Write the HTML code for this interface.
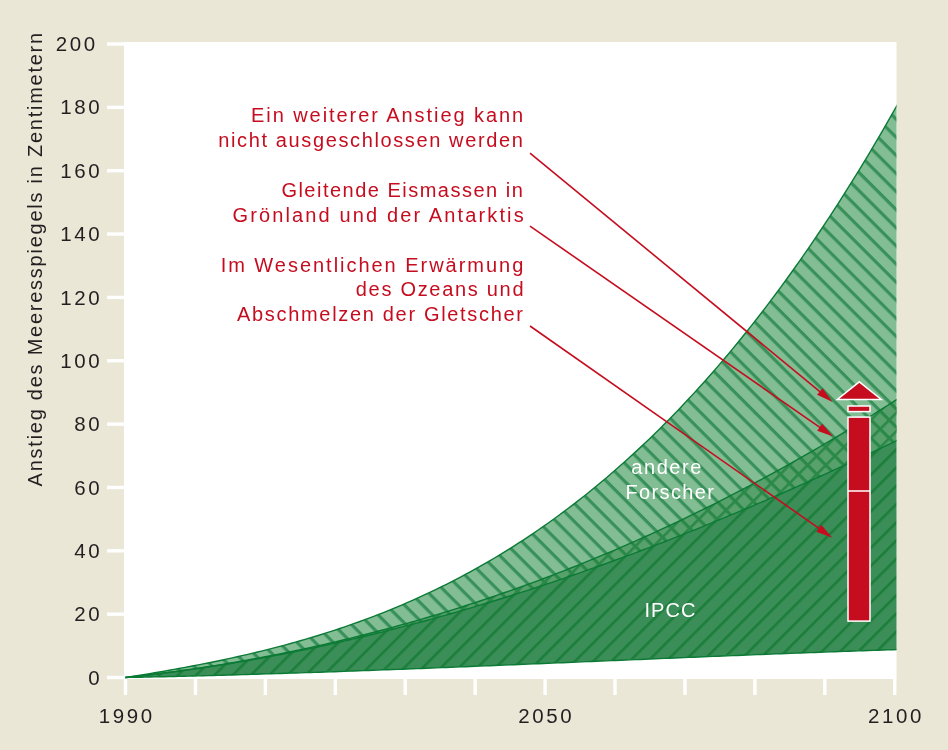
<!DOCTYPE html>
<html><head><meta charset="utf-8"><style>
html,body{margin:0;padding:0;width:948px;height:750px;overflow:hidden;background:#EAE7D7;}
text{font-family:"Liberation Sans", sans-serif;}
</style></head><body>
<svg width="948" height="750" viewBox="0 0 948 750" style="position:absolute;left:0;top:0;will-change:transform">
<defs>
<clipPath id="plot"><rect x="124" y="42" width="772.5" height="637"/></clipPath>
<pattern id="pA" patternUnits="userSpaceOnUse" width="12.8" height="12.8" patternTransform="translate(0.8,0) rotate(45)"><rect width="12.8" height="12.8" fill="#83BD94"/><rect y="0" width="12.8" height="3.2" fill="#38905A"/></pattern>
<pattern id="pI" patternUnits="userSpaceOnUse" width="12.9" height="12.9" patternTransform="translate(-6.11,0) rotate(-45)"><rect width="12.9" height="12.9" fill="#3B8E58"/><rect y="0" width="12.9" height="2.6" fill="#1C7E3B"/></pattern>
<pattern id="pOA" patternUnits="userSpaceOnUse" width="12.8" height="12.8" patternTransform="translate(0.8,0) rotate(45)"><rect y="0" width="12.8" height="3.2" fill="#2A8848"/></pattern>
<pattern id="pOI" patternUnits="userSpaceOnUse" width="12.9" height="12.9" patternTransform="translate(-6.11,0) rotate(-45)"><rect y="0" width="12.9" height="2.6" fill="#2A8848"/></pattern>
</defs>
<rect x="124" y="42" width="772.5" height="637" fill="#ffffff"/>
<rect x="107" y="675.80" width="18" height="3.4" fill="#ffffff"/>
<rect x="107" y="612.45" width="18" height="3.4" fill="#ffffff"/>
<rect x="107" y="549.10" width="18" height="3.4" fill="#ffffff"/>
<rect x="107" y="485.75" width="18" height="3.4" fill="#ffffff"/>
<rect x="107" y="422.40" width="18" height="3.4" fill="#ffffff"/>
<rect x="107" y="359.05" width="18" height="3.4" fill="#ffffff"/>
<rect x="107" y="295.70" width="18" height="3.4" fill="#ffffff"/>
<rect x="107" y="232.35" width="18" height="3.4" fill="#ffffff"/>
<rect x="107" y="169.00" width="18" height="3.4" fill="#ffffff"/>
<rect x="107" y="105.65" width="18" height="3.4" fill="#ffffff"/>
<rect x="107" y="42.30" width="18" height="3.4" fill="#ffffff"/>
<rect x="123.80" y="677" width="3.4" height="18" fill="#ffffff"/>
<rect x="193.73" y="677" width="3.4" height="18" fill="#ffffff"/>
<rect x="263.66" y="677" width="3.4" height="18" fill="#ffffff"/>
<rect x="333.59" y="677" width="3.4" height="18" fill="#ffffff"/>
<rect x="403.52" y="677" width="3.4" height="18" fill="#ffffff"/>
<rect x="473.45" y="677" width="3.4" height="18" fill="#ffffff"/>
<rect x="543.38" y="677" width="3.4" height="18" fill="#ffffff"/>
<rect x="613.31" y="677" width="3.4" height="18" fill="#ffffff"/>
<rect x="683.24" y="677" width="3.4" height="18" fill="#ffffff"/>
<rect x="753.17" y="677" width="3.4" height="18" fill="#ffffff"/>
<rect x="823.10" y="677" width="3.4" height="18" fill="#ffffff"/>
<rect x="893.03" y="677" width="3.4" height="18" fill="#ffffff"/>
<g clip-path="url(#plot)">
<path d="M125.50,677.50 L130.36,676.73 L135.21,675.96 L140.07,675.18 L144.92,674.39 L149.78,673.58 L154.63,672.77 L159.49,671.94 L164.34,671.11 L169.20,670.26 L174.05,669.40 L178.91,668.52 L183.76,667.63 L188.62,666.73 L193.47,665.81 L198.33,664.87 L203.19,663.92 L208.04,662.96 L212.90,661.97 L217.75,660.97 L222.61,659.95 L227.46,658.91 L232.32,657.86 L237.17,656.78 L242.03,655.68 L246.88,654.57 L251.74,653.43 L256.59,652.27 L261.45,651.09 L266.31,649.88 L271.16,648.65 L276.02,647.40 L280.87,646.12 L285.73,644.82 L290.58,643.49 L295.44,642.14 L300.29,640.76 L305.15,639.36 L310.00,637.92 L314.86,636.46 L319.71,634.97 L324.57,633.45 L329.42,631.90 L334.28,630.33 L339.14,628.72 L343.99,627.08 L348.85,625.41 L353.70,623.70 L358.56,621.97 L363.41,620.20 L368.27,618.39 L373.12,616.56 L377.98,614.68 L382.83,612.78 L387.69,610.83 L392.54,608.85 L397.40,606.84 L402.25,604.78 L407.11,602.69 L411.97,600.56 L416.82,598.39 L421.68,596.19 L426.53,593.94 L431.39,591.65 L436.24,589.32 L441.10,586.95 L445.95,584.54 L450.81,582.08 L455.66,579.58 L460.52,577.04 L465.37,574.46 L470.23,571.83 L475.08,569.15 L479.94,566.43 L484.80,563.66 L489.65,560.85 L494.51,557.99 L499.36,555.08 L504.22,552.12 L509.07,549.11 L513.93,546.06 L518.78,542.95 L523.64,539.80 L528.49,536.59 L533.35,533.33 L538.20,530.02 L543.06,526.66 L547.92,523.25 L552.77,519.78 L557.63,516.26 L562.48,512.68 L567.34,509.05 L572.19,505.36 L577.05,501.62 L581.90,497.82 L586.76,493.96 L591.61,490.05 L596.47,486.07 L601.32,482.04 L606.18,477.95 L611.03,473.80 L615.89,469.59 L620.75,465.32 L625.60,460.99 L630.46,456.59 L635.31,452.14 L640.17,447.62 L645.02,443.03 L649.88,438.39 L654.73,433.68 L659.59,428.90 L664.44,424.06 L669.30,419.15 L674.15,414.18 L679.01,409.14 L683.86,404.03 L688.72,398.85 L693.58,393.61 L698.43,388.30 L703.29,382.91 L708.14,377.46 L713.00,371.93 L717.85,366.34 L722.71,360.67 L727.56,354.93 L732.42,349.12 L737.27,343.24 L742.13,337.28 L746.98,331.25 L751.84,325.14 L756.69,318.96 L761.55,312.70 L766.41,306.36 L771.26,299.95 L776.12,293.46 L780.97,286.89 L785.83,280.25 L790.68,273.52 L795.54,266.72 L800.39,259.83 L805.25,252.87 L810.10,245.82 L814.96,238.70 L819.81,231.49 L824.67,224.20 L829.53,216.82 L834.38,209.36 L839.24,201.82 L844.09,194.19 L848.95,186.48 L853.80,178.68 L858.66,170.80 L863.51,162.83 L868.37,154.77 L873.22,146.62 L878.08,138.39 L882.93,130.06 L887.79,121.65 L892.64,113.15 L897.50,104.55 L897.50,399.06 L892.64,402.18 L887.79,405.28 L882.93,408.37 L878.08,411.43 L873.22,414.48 L868.37,417.51 L863.51,420.52 L858.66,423.51 L853.80,426.48 L848.95,429.43 L844.09,432.36 L839.24,435.28 L834.38,438.17 L829.53,441.05 L824.67,443.91 L819.81,446.75 L814.96,449.57 L810.10,452.37 L805.25,455.15 L800.39,457.91 L795.54,460.66 L790.68,463.39 L785.83,466.09 L780.97,468.78 L776.12,471.46 L771.26,474.11 L766.41,476.74 L761.55,479.36 L756.69,481.96 L751.84,484.54 L746.98,487.10 L742.13,489.65 L737.27,492.17 L732.42,494.68 L727.56,497.17 L722.71,499.64 L717.85,502.09 L713.00,504.53 L708.14,506.95 L703.29,509.34 L698.43,511.73 L693.58,514.09 L688.72,516.44 L683.86,518.76 L679.01,521.08 L674.15,523.37 L669.30,525.64 L664.44,527.90 L659.59,530.14 L654.73,532.36 L649.88,534.57 L645.02,536.76 L640.17,538.93 L635.31,541.08 L630.46,543.22 L625.60,545.33 L620.75,547.44 L615.89,549.52 L611.03,551.59 L606.18,553.63 L601.32,555.67 L596.47,557.68 L591.61,559.68 L586.76,561.66 L581.90,563.63 L577.05,565.57 L572.19,567.50 L567.34,569.42 L562.48,571.31 L557.63,573.19 L552.77,575.05 L547.92,576.90 L543.06,578.73 L538.20,580.54 L533.35,582.34 L528.49,584.12 L523.64,585.88 L518.78,587.63 L513.93,589.36 L509.07,591.07 L504.22,592.77 L499.36,594.45 L494.51,596.11 L489.65,597.76 L484.80,599.39 L479.94,601.01 L475.08,602.61 L470.23,604.19 L465.37,605.76 L460.52,607.31 L455.66,608.84 L450.81,610.36 L445.95,611.86 L441.10,613.35 L436.24,614.82 L431.39,616.28 L426.53,617.72 L421.68,619.14 L416.82,620.55 L411.97,621.94 L407.11,623.32 L402.25,624.68 L397.40,626.02 L392.54,627.35 L387.69,628.66 L382.83,629.96 L377.98,631.25 L373.12,632.51 L368.27,633.76 L363.41,635.00 L358.56,636.22 L353.70,637.43 L348.85,638.62 L343.99,639.79 L339.14,640.95 L334.28,642.10 L329.42,643.23 L324.57,644.34 L319.71,645.44 L314.86,646.53 L310.00,647.60 L305.15,648.65 L300.29,649.69 L295.44,650.72 L290.58,651.73 L285.73,652.72 L280.87,653.70 L276.02,654.67 L271.16,655.62 L266.31,656.56 L261.45,657.48 L256.59,658.39 L251.74,659.28 L246.88,660.16 L242.03,661.02 L237.17,661.87 L232.32,662.71 L227.46,663.53 L222.61,664.33 L217.75,665.12 L212.90,665.90 L208.04,666.67 L203.19,667.41 L198.33,668.15 L193.47,668.87 L188.62,669.58 L183.76,670.27 L178.91,670.95 L174.05,671.61 L169.20,672.26 L164.34,672.90 L159.49,673.52 L154.63,674.13 L149.78,674.73 L144.92,675.31 L140.07,675.88 L135.21,676.43 L130.36,676.97 L125.50,677.50 Z" fill="url(#pA)"/>
<path d="M125.50,677.50 L130.36,677.00 L135.21,676.48 L140.07,675.95 L144.92,675.41 L149.78,674.85 L154.63,674.28 L159.49,673.69 L164.34,673.09 L169.20,672.47 L174.05,671.84 L178.91,671.20 L183.76,670.54 L188.62,669.86 L193.47,669.18 L198.33,668.48 L203.19,667.76 L208.04,667.04 L212.90,666.29 L217.75,665.54 L222.61,664.77 L227.46,663.98 L232.32,663.19 L237.17,662.38 L242.03,661.55 L246.88,660.71 L251.74,659.86 L256.59,659.00 L261.45,658.12 L266.31,657.23 L271.16,656.32 L276.02,655.40 L280.87,654.47 L285.73,653.52 L290.58,652.57 L295.44,651.59 L300.29,650.61 L305.15,649.61 L310.00,648.60 L314.86,647.57 L319.71,646.54 L324.57,645.49 L329.42,644.42 L334.28,643.34 L339.14,642.25 L343.99,641.15 L348.85,640.04 L353.70,638.91 L358.56,637.77 L363.41,636.61 L368.27,635.45 L373.12,634.27 L377.98,633.08 L382.83,631.87 L387.69,630.66 L392.54,629.43 L397.40,628.18 L402.25,626.93 L407.11,625.66 L411.97,624.38 L416.82,623.09 L421.68,621.79 L426.53,620.47 L431.39,619.15 L436.24,617.81 L441.10,616.45 L445.95,615.09 L450.81,613.71 L455.66,612.32 L460.52,610.92 L465.37,609.51 L470.23,608.08 L475.08,606.65 L479.94,605.20 L484.80,603.74 L489.65,602.27 L494.51,600.78 L499.36,599.29 L504.22,597.78 L509.07,596.26 L513.93,594.73 L518.78,593.19 L523.64,591.64 L528.49,590.07 L533.35,588.49 L538.20,586.91 L543.06,585.31 L547.92,583.70 L552.77,582.07 L557.63,580.44 L562.48,578.80 L567.34,577.14 L572.19,575.47 L577.05,573.80 L581.90,572.11 L586.76,570.41 L591.61,568.70 L596.47,566.97 L601.32,565.24 L606.18,563.50 L611.03,561.74 L615.89,559.98 L620.75,558.20 L625.60,556.41 L630.46,554.61 L635.31,552.80 L640.17,550.98 L645.02,549.15 L649.88,547.31 L654.73,545.46 L659.59,543.60 L664.44,541.73 L669.30,539.85 L674.15,537.95 L679.01,536.05 L683.86,534.14 L688.72,532.21 L693.58,530.28 L698.43,528.33 L703.29,526.38 L708.14,524.41 L713.00,522.44 L717.85,520.45 L722.71,518.46 L727.56,516.45 L732.42,514.44 L737.27,512.41 L742.13,510.38 L746.98,508.33 L751.84,506.28 L756.69,504.21 L761.55,502.14 L766.41,500.05 L771.26,497.96 L776.12,495.86 L780.97,493.74 L785.83,491.62 L790.68,489.49 L795.54,487.35 L800.39,485.20 L805.25,483.04 L810.10,480.87 L814.96,478.69 L819.81,476.50 L824.67,474.30 L829.53,472.09 L834.38,469.88 L839.24,467.65 L844.09,465.42 L848.95,463.17 L853.80,460.92 L858.66,458.66 L863.51,456.39 L868.37,454.11 L873.22,451.82 L878.08,449.52 L882.93,447.22 L887.79,444.90 L892.64,442.58 L897.50,440.24 L897.50,649.56 L892.64,649.72 L887.79,649.88 L882.93,650.04 L878.08,650.20 L873.22,650.37 L868.37,650.54 L863.51,650.70 L858.66,650.87 L853.80,651.04 L848.95,651.21 L844.09,651.38 L839.24,651.56 L834.38,651.73 L829.53,651.91 L824.67,652.09 L819.81,652.26 L814.96,652.44 L810.10,652.62 L805.25,652.80 L800.39,652.99 L795.54,653.17 L790.68,653.35 L785.83,653.54 L780.97,653.73 L776.12,653.91 L771.26,654.10 L766.41,654.29 L761.55,654.48 L756.69,654.67 L751.84,654.86 L746.98,655.05 L742.13,655.25 L737.27,655.44 L732.42,655.64 L727.56,655.83 L722.71,656.03 L717.85,656.22 L713.00,656.42 L708.14,656.62 L703.29,656.81 L698.43,657.01 L693.58,657.21 L688.72,657.41 L683.86,657.61 L679.01,657.81 L674.15,658.01 L669.30,658.21 L664.44,658.42 L659.59,658.62 L654.73,658.82 L649.88,659.02 L645.02,659.22 L640.17,659.43 L635.31,659.63 L630.46,659.83 L625.60,660.04 L620.75,660.24 L615.89,660.45 L611.03,660.65 L606.18,660.85 L601.32,661.06 L596.47,661.26 L591.61,661.47 L586.76,661.67 L581.90,661.87 L577.05,662.08 L572.19,662.28 L567.34,662.49 L562.48,662.69 L557.63,662.89 L552.77,663.10 L547.92,663.30 L543.06,663.50 L538.20,663.71 L533.35,663.91 L528.49,664.11 L523.64,664.31 L518.78,664.51 L513.93,664.71 L509.07,664.91 L504.22,665.11 L499.36,665.31 L494.51,665.51 L489.65,665.71 L484.80,665.91 L479.94,666.11 L475.08,666.31 L470.23,666.50 L465.37,666.70 L460.52,666.89 L455.66,667.09 L450.81,667.28 L445.95,667.48 L441.10,667.67 L436.24,667.86 L431.39,668.05 L426.53,668.24 L421.68,668.43 L416.82,668.62 L411.97,668.81 L407.11,669.00 L402.25,669.18 L397.40,669.37 L392.54,669.55 L387.69,669.73 L382.83,669.92 L377.98,670.10 L373.12,670.28 L368.27,670.46 L363.41,670.63 L358.56,670.81 L353.70,670.99 L348.85,671.16 L343.99,671.33 L339.14,671.51 L334.28,671.68 L329.42,671.85 L324.57,672.01 L319.71,672.18 L314.86,672.35 L310.00,672.51 L305.15,672.67 L300.29,672.83 L295.44,672.99 L290.58,673.15 L285.73,673.31 L280.87,673.46 L276.02,673.62 L271.16,673.77 L266.31,673.92 L261.45,674.07 L256.59,674.22 L251.74,674.36 L246.88,674.51 L242.03,674.65 L237.17,674.79 L232.32,674.93 L227.46,675.07 L222.61,675.20 L217.75,675.34 L212.90,675.47 L208.04,675.60 L203.19,675.73 L198.33,675.85 L193.47,675.98 L188.62,676.10 L183.76,676.22 L178.91,676.34 L174.05,676.45 L169.20,676.57 L164.34,676.68 L159.49,676.79 L154.63,676.90 L149.78,677.00 L144.92,677.11 L140.07,677.21 L135.21,677.31 L130.36,677.41 L125.50,677.50 Z" fill="url(#pI)"/>
<path d="M125.50,677.50 L130.36,676.97 L135.21,676.43 L140.07,675.88 L144.92,675.31 L149.78,674.73 L154.63,674.13 L159.49,673.52 L164.34,672.90 L169.20,672.26 L174.05,671.61 L178.91,670.95 L183.76,670.27 L188.62,669.58 L193.47,668.87 L198.33,668.15 L203.19,667.41 L208.04,666.67 L212.90,665.90 L217.75,665.12 L222.61,664.33 L227.46,663.53 L232.32,662.71 L237.17,661.87 L242.03,661.02 L246.88,660.16 L251.74,659.28 L256.59,658.39 L261.45,657.48 L266.31,656.56 L271.16,655.62 L276.02,654.67 L280.87,653.70 L285.73,652.72 L290.58,651.73 L295.44,650.72 L300.29,649.69 L305.15,648.65 L310.00,647.60 L314.86,646.53 L319.71,645.44 L324.57,644.34 L329.42,643.23 L334.28,642.10 L339.14,640.95 L343.99,639.79 L348.85,638.62 L353.70,637.43 L358.56,636.22 L363.41,635.00 L368.27,633.76 L373.12,632.51 L377.98,631.25 L382.83,629.96 L387.69,628.66 L392.54,627.35 L397.40,626.02 L402.25,624.68 L407.11,623.32 L411.97,621.94 L416.82,620.55 L421.68,619.14 L426.53,617.72 L431.39,616.28 L436.24,614.82 L441.10,613.35 L445.95,611.86 L450.81,610.36 L455.66,608.84 L460.52,607.31 L465.37,605.76 L470.23,604.19 L475.08,602.61 L479.94,601.01 L484.80,599.39 L489.65,597.76 L494.51,596.11 L499.36,594.45 L504.22,592.77 L509.07,591.07 L513.93,589.36 L518.78,587.63 L523.64,585.88 L528.49,584.12 L533.35,582.34 L538.20,580.54 L543.06,578.73 L547.92,576.90 L552.77,575.05 L557.63,573.19 L562.48,571.31 L567.34,569.42 L572.19,567.50 L577.05,565.57 L581.90,563.63 L586.76,561.66 L591.61,559.68 L596.47,557.68 L601.32,555.67 L606.18,553.63 L611.03,551.59 L615.89,549.52 L620.75,547.44 L625.60,545.33 L630.46,543.22 L635.31,541.08 L640.17,538.93 L645.02,536.76 L649.88,534.57 L654.73,532.36 L659.59,530.14 L664.44,527.90 L669.30,525.64 L674.15,523.37 L679.01,521.08 L683.86,518.76 L688.72,516.44 L693.58,514.09 L698.43,511.73 L703.29,509.34 L708.14,506.95 L713.00,504.53 L717.85,502.09 L722.71,499.64 L727.56,497.17 L732.42,494.68 L737.27,492.17 L742.13,489.65 L746.98,487.10 L751.84,484.54 L756.69,481.96 L761.55,479.36 L766.41,476.74 L771.26,474.11 L776.12,471.46 L780.97,468.78 L785.83,466.09 L790.68,463.39 L795.54,460.66 L800.39,457.91 L805.25,455.15 L810.10,452.37 L814.96,449.57 L819.81,446.75 L824.67,443.91 L829.53,441.05 L834.38,438.17 L839.24,435.28 L844.09,432.36 L848.95,429.43 L853.80,426.48 L858.66,423.51 L863.51,420.52 L868.37,417.51 L873.22,414.48 L878.08,411.43 L882.93,408.37 L887.79,405.28 L892.64,402.18 L897.50,399.06 L897.50,440.24 L892.64,442.58 L887.79,444.90 L882.93,447.22 L878.08,449.52 L873.22,451.82 L868.37,454.11 L863.51,456.39 L858.66,458.66 L853.80,460.92 L848.95,463.17 L844.09,465.42 L839.24,467.65 L834.38,469.88 L829.53,472.09 L824.67,474.30 L819.81,476.50 L814.96,478.69 L810.10,480.87 L805.25,483.04 L800.39,485.20 L795.54,487.35 L790.68,489.49 L785.83,491.62 L780.97,493.74 L776.12,495.86 L771.26,497.96 L766.41,500.05 L761.55,502.14 L756.69,504.21 L751.84,506.28 L746.98,508.33 L742.13,510.38 L737.27,512.41 L732.42,514.44 L727.56,516.45 L722.71,518.46 L717.85,520.45 L713.00,522.44 L708.14,524.41 L703.29,526.38 L698.43,528.33 L693.58,530.28 L688.72,532.21 L683.86,534.14 L679.01,536.05 L674.15,537.95 L669.30,539.85 L664.44,541.73 L659.59,543.60 L654.73,545.46 L649.88,547.31 L645.02,549.15 L640.17,550.98 L635.31,552.80 L630.46,554.61 L625.60,556.41 L620.75,558.20 L615.89,559.98 L611.03,561.74 L606.18,563.50 L601.32,565.24 L596.47,566.97 L591.61,568.70 L586.76,570.41 L581.90,572.11 L577.05,573.80 L572.19,575.47 L567.34,577.14 L562.48,578.80 L557.63,580.44 L552.77,582.07 L547.92,583.70 L543.06,585.31 L538.20,586.91 L533.35,588.49 L528.49,590.07 L523.64,591.64 L518.78,593.19 L513.93,594.73 L509.07,596.26 L504.22,597.78 L499.36,599.29 L494.51,600.78 L489.65,602.27 L484.80,603.74 L479.94,605.20 L475.08,606.65 L470.23,608.08 L465.37,609.51 L460.52,610.92 L455.66,612.32 L450.81,613.71 L445.95,615.09 L441.10,616.45 L436.24,617.81 L431.39,619.15 L426.53,620.47 L421.68,621.79 L416.82,623.09 L411.97,624.38 L407.11,625.66 L402.25,626.93 L397.40,628.18 L392.54,629.43 L387.69,630.66 L382.83,631.87 L377.98,633.08 L373.12,634.27 L368.27,635.45 L363.41,636.61 L358.56,637.77 L353.70,638.91 L348.85,640.04 L343.99,641.15 L339.14,642.25 L334.28,643.34 L329.42,644.42 L324.57,645.49 L319.71,646.54 L314.86,647.57 L310.00,648.60 L305.15,649.61 L300.29,650.61 L295.44,651.59 L290.58,652.57 L285.73,653.52 L280.87,654.47 L276.02,655.40 L271.16,656.32 L266.31,657.23 L261.45,658.12 L256.59,659.00 L251.74,659.86 L246.88,660.71 L242.03,661.55 L237.17,662.38 L232.32,663.19 L227.46,663.98 L222.61,664.77 L217.75,665.54 L212.90,666.29 L208.04,667.04 L203.19,667.76 L198.33,668.48 L193.47,669.18 L188.62,669.86 L183.76,670.54 L178.91,671.20 L174.05,671.84 L169.20,672.47 L164.34,673.09 L159.49,673.69 L154.63,674.28 L149.78,674.85 L144.92,675.41 L140.07,675.95 L135.21,676.48 L130.36,677.00 L125.50,677.50 Z" fill="#58A16D"/>
<path d="M125.50,677.50 L130.36,676.97 L135.21,676.43 L140.07,675.88 L144.92,675.31 L149.78,674.73 L154.63,674.13 L159.49,673.52 L164.34,672.90 L169.20,672.26 L174.05,671.61 L178.91,670.95 L183.76,670.27 L188.62,669.58 L193.47,668.87 L198.33,668.15 L203.19,667.41 L208.04,666.67 L212.90,665.90 L217.75,665.12 L222.61,664.33 L227.46,663.53 L232.32,662.71 L237.17,661.87 L242.03,661.02 L246.88,660.16 L251.74,659.28 L256.59,658.39 L261.45,657.48 L266.31,656.56 L271.16,655.62 L276.02,654.67 L280.87,653.70 L285.73,652.72 L290.58,651.73 L295.44,650.72 L300.29,649.69 L305.15,648.65 L310.00,647.60 L314.86,646.53 L319.71,645.44 L324.57,644.34 L329.42,643.23 L334.28,642.10 L339.14,640.95 L343.99,639.79 L348.85,638.62 L353.70,637.43 L358.56,636.22 L363.41,635.00 L368.27,633.76 L373.12,632.51 L377.98,631.25 L382.83,629.96 L387.69,628.66 L392.54,627.35 L397.40,626.02 L402.25,624.68 L407.11,623.32 L411.97,621.94 L416.82,620.55 L421.68,619.14 L426.53,617.72 L431.39,616.28 L436.24,614.82 L441.10,613.35 L445.95,611.86 L450.81,610.36 L455.66,608.84 L460.52,607.31 L465.37,605.76 L470.23,604.19 L475.08,602.61 L479.94,601.01 L484.80,599.39 L489.65,597.76 L494.51,596.11 L499.36,594.45 L504.22,592.77 L509.07,591.07 L513.93,589.36 L518.78,587.63 L523.64,585.88 L528.49,584.12 L533.35,582.34 L538.20,580.54 L543.06,578.73 L547.92,576.90 L552.77,575.05 L557.63,573.19 L562.48,571.31 L567.34,569.42 L572.19,567.50 L577.05,565.57 L581.90,563.63 L586.76,561.66 L591.61,559.68 L596.47,557.68 L601.32,555.67 L606.18,553.63 L611.03,551.59 L615.89,549.52 L620.75,547.44 L625.60,545.33 L630.46,543.22 L635.31,541.08 L640.17,538.93 L645.02,536.76 L649.88,534.57 L654.73,532.36 L659.59,530.14 L664.44,527.90 L669.30,525.64 L674.15,523.37 L679.01,521.08 L683.86,518.76 L688.72,516.44 L693.58,514.09 L698.43,511.73 L703.29,509.34 L708.14,506.95 L713.00,504.53 L717.85,502.09 L722.71,499.64 L727.56,497.17 L732.42,494.68 L737.27,492.17 L742.13,489.65 L746.98,487.10 L751.84,484.54 L756.69,481.96 L761.55,479.36 L766.41,476.74 L771.26,474.11 L776.12,471.46 L780.97,468.78 L785.83,466.09 L790.68,463.39 L795.54,460.66 L800.39,457.91 L805.25,455.15 L810.10,452.37 L814.96,449.57 L819.81,446.75 L824.67,443.91 L829.53,441.05 L834.38,438.17 L839.24,435.28 L844.09,432.36 L848.95,429.43 L853.80,426.48 L858.66,423.51 L863.51,420.52 L868.37,417.51 L873.22,414.48 L878.08,411.43 L882.93,408.37 L887.79,405.28 L892.64,402.18 L897.50,399.06 L897.50,440.24 L892.64,442.58 L887.79,444.90 L882.93,447.22 L878.08,449.52 L873.22,451.82 L868.37,454.11 L863.51,456.39 L858.66,458.66 L853.80,460.92 L848.95,463.17 L844.09,465.42 L839.24,467.65 L834.38,469.88 L829.53,472.09 L824.67,474.30 L819.81,476.50 L814.96,478.69 L810.10,480.87 L805.25,483.04 L800.39,485.20 L795.54,487.35 L790.68,489.49 L785.83,491.62 L780.97,493.74 L776.12,495.86 L771.26,497.96 L766.41,500.05 L761.55,502.14 L756.69,504.21 L751.84,506.28 L746.98,508.33 L742.13,510.38 L737.27,512.41 L732.42,514.44 L727.56,516.45 L722.71,518.46 L717.85,520.45 L713.00,522.44 L708.14,524.41 L703.29,526.38 L698.43,528.33 L693.58,530.28 L688.72,532.21 L683.86,534.14 L679.01,536.05 L674.15,537.95 L669.30,539.85 L664.44,541.73 L659.59,543.60 L654.73,545.46 L649.88,547.31 L645.02,549.15 L640.17,550.98 L635.31,552.80 L630.46,554.61 L625.60,556.41 L620.75,558.20 L615.89,559.98 L611.03,561.74 L606.18,563.50 L601.32,565.24 L596.47,566.97 L591.61,568.70 L586.76,570.41 L581.90,572.11 L577.05,573.80 L572.19,575.47 L567.34,577.14 L562.48,578.80 L557.63,580.44 L552.77,582.07 L547.92,583.70 L543.06,585.31 L538.20,586.91 L533.35,588.49 L528.49,590.07 L523.64,591.64 L518.78,593.19 L513.93,594.73 L509.07,596.26 L504.22,597.78 L499.36,599.29 L494.51,600.78 L489.65,602.27 L484.80,603.74 L479.94,605.20 L475.08,606.65 L470.23,608.08 L465.37,609.51 L460.52,610.92 L455.66,612.32 L450.81,613.71 L445.95,615.09 L441.10,616.45 L436.24,617.81 L431.39,619.15 L426.53,620.47 L421.68,621.79 L416.82,623.09 L411.97,624.38 L407.11,625.66 L402.25,626.93 L397.40,628.18 L392.54,629.43 L387.69,630.66 L382.83,631.87 L377.98,633.08 L373.12,634.27 L368.27,635.45 L363.41,636.61 L358.56,637.77 L353.70,638.91 L348.85,640.04 L343.99,641.15 L339.14,642.25 L334.28,643.34 L329.42,644.42 L324.57,645.49 L319.71,646.54 L314.86,647.57 L310.00,648.60 L305.15,649.61 L300.29,650.61 L295.44,651.59 L290.58,652.57 L285.73,653.52 L280.87,654.47 L276.02,655.40 L271.16,656.32 L266.31,657.23 L261.45,658.12 L256.59,659.00 L251.74,659.86 L246.88,660.71 L242.03,661.55 L237.17,662.38 L232.32,663.19 L227.46,663.98 L222.61,664.77 L217.75,665.54 L212.90,666.29 L208.04,667.04 L203.19,667.76 L198.33,668.48 L193.47,669.18 L188.62,669.86 L183.76,670.54 L178.91,671.20 L174.05,671.84 L169.20,672.47 L164.34,673.09 L159.49,673.69 L154.63,674.28 L149.78,674.85 L144.92,675.41 L140.07,675.95 L135.21,676.48 L130.36,677.00 L125.50,677.50 Z" fill="url(#pOA)"/>
<path d="M125.50,677.50 L130.36,676.97 L135.21,676.43 L140.07,675.88 L144.92,675.31 L149.78,674.73 L154.63,674.13 L159.49,673.52 L164.34,672.90 L169.20,672.26 L174.05,671.61 L178.91,670.95 L183.76,670.27 L188.62,669.58 L193.47,668.87 L198.33,668.15 L203.19,667.41 L208.04,666.67 L212.90,665.90 L217.75,665.12 L222.61,664.33 L227.46,663.53 L232.32,662.71 L237.17,661.87 L242.03,661.02 L246.88,660.16 L251.74,659.28 L256.59,658.39 L261.45,657.48 L266.31,656.56 L271.16,655.62 L276.02,654.67 L280.87,653.70 L285.73,652.72 L290.58,651.73 L295.44,650.72 L300.29,649.69 L305.15,648.65 L310.00,647.60 L314.86,646.53 L319.71,645.44 L324.57,644.34 L329.42,643.23 L334.28,642.10 L339.14,640.95 L343.99,639.79 L348.85,638.62 L353.70,637.43 L358.56,636.22 L363.41,635.00 L368.27,633.76 L373.12,632.51 L377.98,631.25 L382.83,629.96 L387.69,628.66 L392.54,627.35 L397.40,626.02 L402.25,624.68 L407.11,623.32 L411.97,621.94 L416.82,620.55 L421.68,619.14 L426.53,617.72 L431.39,616.28 L436.24,614.82 L441.10,613.35 L445.95,611.86 L450.81,610.36 L455.66,608.84 L460.52,607.31 L465.37,605.76 L470.23,604.19 L475.08,602.61 L479.94,601.01 L484.80,599.39 L489.65,597.76 L494.51,596.11 L499.36,594.45 L504.22,592.77 L509.07,591.07 L513.93,589.36 L518.78,587.63 L523.64,585.88 L528.49,584.12 L533.35,582.34 L538.20,580.54 L543.06,578.73 L547.92,576.90 L552.77,575.05 L557.63,573.19 L562.48,571.31 L567.34,569.42 L572.19,567.50 L577.05,565.57 L581.90,563.63 L586.76,561.66 L591.61,559.68 L596.47,557.68 L601.32,555.67 L606.18,553.63 L611.03,551.59 L615.89,549.52 L620.75,547.44 L625.60,545.33 L630.46,543.22 L635.31,541.08 L640.17,538.93 L645.02,536.76 L649.88,534.57 L654.73,532.36 L659.59,530.14 L664.44,527.90 L669.30,525.64 L674.15,523.37 L679.01,521.08 L683.86,518.76 L688.72,516.44 L693.58,514.09 L698.43,511.73 L703.29,509.34 L708.14,506.95 L713.00,504.53 L717.85,502.09 L722.71,499.64 L727.56,497.17 L732.42,494.68 L737.27,492.17 L742.13,489.65 L746.98,487.10 L751.84,484.54 L756.69,481.96 L761.55,479.36 L766.41,476.74 L771.26,474.11 L776.12,471.46 L780.97,468.78 L785.83,466.09 L790.68,463.39 L795.54,460.66 L800.39,457.91 L805.25,455.15 L810.10,452.37 L814.96,449.57 L819.81,446.75 L824.67,443.91 L829.53,441.05 L834.38,438.17 L839.24,435.28 L844.09,432.36 L848.95,429.43 L853.80,426.48 L858.66,423.51 L863.51,420.52 L868.37,417.51 L873.22,414.48 L878.08,411.43 L882.93,408.37 L887.79,405.28 L892.64,402.18 L897.50,399.06 L897.50,440.24 L892.64,442.58 L887.79,444.90 L882.93,447.22 L878.08,449.52 L873.22,451.82 L868.37,454.11 L863.51,456.39 L858.66,458.66 L853.80,460.92 L848.95,463.17 L844.09,465.42 L839.24,467.65 L834.38,469.88 L829.53,472.09 L824.67,474.30 L819.81,476.50 L814.96,478.69 L810.10,480.87 L805.25,483.04 L800.39,485.20 L795.54,487.35 L790.68,489.49 L785.83,491.62 L780.97,493.74 L776.12,495.86 L771.26,497.96 L766.41,500.05 L761.55,502.14 L756.69,504.21 L751.84,506.28 L746.98,508.33 L742.13,510.38 L737.27,512.41 L732.42,514.44 L727.56,516.45 L722.71,518.46 L717.85,520.45 L713.00,522.44 L708.14,524.41 L703.29,526.38 L698.43,528.33 L693.58,530.28 L688.72,532.21 L683.86,534.14 L679.01,536.05 L674.15,537.95 L669.30,539.85 L664.44,541.73 L659.59,543.60 L654.73,545.46 L649.88,547.31 L645.02,549.15 L640.17,550.98 L635.31,552.80 L630.46,554.61 L625.60,556.41 L620.75,558.20 L615.89,559.98 L611.03,561.74 L606.18,563.50 L601.32,565.24 L596.47,566.97 L591.61,568.70 L586.76,570.41 L581.90,572.11 L577.05,573.80 L572.19,575.47 L567.34,577.14 L562.48,578.80 L557.63,580.44 L552.77,582.07 L547.92,583.70 L543.06,585.31 L538.20,586.91 L533.35,588.49 L528.49,590.07 L523.64,591.64 L518.78,593.19 L513.93,594.73 L509.07,596.26 L504.22,597.78 L499.36,599.29 L494.51,600.78 L489.65,602.27 L484.80,603.74 L479.94,605.20 L475.08,606.65 L470.23,608.08 L465.37,609.51 L460.52,610.92 L455.66,612.32 L450.81,613.71 L445.95,615.09 L441.10,616.45 L436.24,617.81 L431.39,619.15 L426.53,620.47 L421.68,621.79 L416.82,623.09 L411.97,624.38 L407.11,625.66 L402.25,626.93 L397.40,628.18 L392.54,629.43 L387.69,630.66 L382.83,631.87 L377.98,633.08 L373.12,634.27 L368.27,635.45 L363.41,636.61 L358.56,637.77 L353.70,638.91 L348.85,640.04 L343.99,641.15 L339.14,642.25 L334.28,643.34 L329.42,644.42 L324.57,645.49 L319.71,646.54 L314.86,647.57 L310.00,648.60 L305.15,649.61 L300.29,650.61 L295.44,651.59 L290.58,652.57 L285.73,653.52 L280.87,654.47 L276.02,655.40 L271.16,656.32 L266.31,657.23 L261.45,658.12 L256.59,659.00 L251.74,659.86 L246.88,660.71 L242.03,661.55 L237.17,662.38 L232.32,663.19 L227.46,663.98 L222.61,664.77 L217.75,665.54 L212.90,666.29 L208.04,667.04 L203.19,667.76 L198.33,668.48 L193.47,669.18 L188.62,669.86 L183.76,670.54 L178.91,671.20 L174.05,671.84 L169.20,672.47 L164.34,673.09 L159.49,673.69 L154.63,674.28 L149.78,674.85 L144.92,675.41 L140.07,675.95 L135.21,676.48 L130.36,677.00 L125.50,677.50 Z" fill="url(#pOI)"/>
<path d="M125.50,677.50 L130.36,676.73 L135.21,675.96 L140.07,675.18 L144.92,674.39 L149.78,673.58 L154.63,672.77 L159.49,671.94 L164.34,671.11 L169.20,670.26 L174.05,669.40 L178.91,668.52 L183.76,667.63 L188.62,666.73 L193.47,665.81 L198.33,664.87 L203.19,663.92 L208.04,662.96 L212.90,661.97 L217.75,660.97 L222.61,659.95 L227.46,658.91 L232.32,657.86 L237.17,656.78 L242.03,655.68 L246.88,654.57 L251.74,653.43 L256.59,652.27 L261.45,651.09 L266.31,649.88 L271.16,648.65 L276.02,647.40 L280.87,646.12 L285.73,644.82 L290.58,643.49 L295.44,642.14 L300.29,640.76 L305.15,639.36 L310.00,637.92 L314.86,636.46 L319.71,634.97 L324.57,633.45 L329.42,631.90 L334.28,630.33 L339.14,628.72 L343.99,627.08 L348.85,625.41 L353.70,623.70 L358.56,621.97 L363.41,620.20 L368.27,618.39 L373.12,616.56 L377.98,614.68 L382.83,612.78 L387.69,610.83 L392.54,608.85 L397.40,606.84 L402.25,604.78 L407.11,602.69 L411.97,600.56 L416.82,598.39 L421.68,596.19 L426.53,593.94 L431.39,591.65 L436.24,589.32 L441.10,586.95 L445.95,584.54 L450.81,582.08 L455.66,579.58 L460.52,577.04 L465.37,574.46 L470.23,571.83 L475.08,569.15 L479.94,566.43 L484.80,563.66 L489.65,560.85 L494.51,557.99 L499.36,555.08 L504.22,552.12 L509.07,549.11 L513.93,546.06 L518.78,542.95 L523.64,539.80 L528.49,536.59 L533.35,533.33 L538.20,530.02 L543.06,526.66 L547.92,523.25 L552.77,519.78 L557.63,516.26 L562.48,512.68 L567.34,509.05 L572.19,505.36 L577.05,501.62 L581.90,497.82 L586.76,493.96 L591.61,490.05 L596.47,486.07 L601.32,482.04 L606.18,477.95 L611.03,473.80 L615.89,469.59 L620.75,465.32 L625.60,460.99 L630.46,456.59 L635.31,452.14 L640.17,447.62 L645.02,443.03 L649.88,438.39 L654.73,433.68 L659.59,428.90 L664.44,424.06 L669.30,419.15 L674.15,414.18 L679.01,409.14 L683.86,404.03 L688.72,398.85 L693.58,393.61 L698.43,388.30 L703.29,382.91 L708.14,377.46 L713.00,371.93 L717.85,366.34 L722.71,360.67 L727.56,354.93 L732.42,349.12 L737.27,343.24 L742.13,337.28 L746.98,331.25 L751.84,325.14 L756.69,318.96 L761.55,312.70 L766.41,306.36 L771.26,299.95 L776.12,293.46 L780.97,286.89 L785.83,280.25 L790.68,273.52 L795.54,266.72 L800.39,259.83 L805.25,252.87 L810.10,245.82 L814.96,238.70 L819.81,231.49 L824.67,224.20 L829.53,216.82 L834.38,209.36 L839.24,201.82 L844.09,194.19 L848.95,186.48 L853.80,178.68 L858.66,170.80 L863.51,162.83 L868.37,154.77 L873.22,146.62 L878.08,138.39 L882.93,130.06 L887.79,121.65 L892.64,113.15 L897.50,104.55" fill="none" stroke="#0A7A35" stroke-width="1.4"/>
<path d="M125.50,677.50 L130.36,676.97 L135.21,676.43 L140.07,675.88 L144.92,675.31 L149.78,674.73 L154.63,674.13 L159.49,673.52 L164.34,672.90 L169.20,672.26 L174.05,671.61 L178.91,670.95 L183.76,670.27 L188.62,669.58 L193.47,668.87 L198.33,668.15 L203.19,667.41 L208.04,666.67 L212.90,665.90 L217.75,665.12 L222.61,664.33 L227.46,663.53 L232.32,662.71 L237.17,661.87 L242.03,661.02 L246.88,660.16 L251.74,659.28 L256.59,658.39 L261.45,657.48 L266.31,656.56 L271.16,655.62 L276.02,654.67 L280.87,653.70 L285.73,652.72 L290.58,651.73 L295.44,650.72 L300.29,649.69 L305.15,648.65 L310.00,647.60 L314.86,646.53 L319.71,645.44 L324.57,644.34 L329.42,643.23 L334.28,642.10 L339.14,640.95 L343.99,639.79 L348.85,638.62 L353.70,637.43 L358.56,636.22 L363.41,635.00 L368.27,633.76 L373.12,632.51 L377.98,631.25 L382.83,629.96 L387.69,628.66 L392.54,627.35 L397.40,626.02 L402.25,624.68 L407.11,623.32 L411.97,621.94 L416.82,620.55 L421.68,619.14 L426.53,617.72 L431.39,616.28 L436.24,614.82 L441.10,613.35 L445.95,611.86 L450.81,610.36 L455.66,608.84 L460.52,607.31 L465.37,605.76 L470.23,604.19 L475.08,602.61 L479.94,601.01 L484.80,599.39 L489.65,597.76 L494.51,596.11 L499.36,594.45 L504.22,592.77 L509.07,591.07 L513.93,589.36 L518.78,587.63 L523.64,585.88 L528.49,584.12 L533.35,582.34 L538.20,580.54 L543.06,578.73 L547.92,576.90 L552.77,575.05 L557.63,573.19 L562.48,571.31 L567.34,569.42 L572.19,567.50 L577.05,565.57 L581.90,563.63 L586.76,561.66 L591.61,559.68 L596.47,557.68 L601.32,555.67 L606.18,553.63 L611.03,551.59 L615.89,549.52 L620.75,547.44 L625.60,545.33 L630.46,543.22 L635.31,541.08 L640.17,538.93 L645.02,536.76 L649.88,534.57 L654.73,532.36 L659.59,530.14 L664.44,527.90 L669.30,525.64 L674.15,523.37 L679.01,521.08 L683.86,518.76 L688.72,516.44 L693.58,514.09 L698.43,511.73 L703.29,509.34 L708.14,506.95 L713.00,504.53 L717.85,502.09 L722.71,499.64 L727.56,497.17 L732.42,494.68 L737.27,492.17 L742.13,489.65 L746.98,487.10 L751.84,484.54 L756.69,481.96 L761.55,479.36 L766.41,476.74 L771.26,474.11 L776.12,471.46 L780.97,468.78 L785.83,466.09 L790.68,463.39 L795.54,460.66 L800.39,457.91 L805.25,455.15 L810.10,452.37 L814.96,449.57 L819.81,446.75 L824.67,443.91 L829.53,441.05 L834.38,438.17 L839.24,435.28 L844.09,432.36 L848.95,429.43 L853.80,426.48 L858.66,423.51 L863.51,420.52 L868.37,417.51 L873.22,414.48 L878.08,411.43 L882.93,408.37 L887.79,405.28 L892.64,402.18 L897.50,399.06" fill="none" stroke="#0A7A35" stroke-width="1.4"/>
<path d="M125.50,677.50 L130.36,677.00 L135.21,676.48 L140.07,675.95 L144.92,675.41 L149.78,674.85 L154.63,674.28 L159.49,673.69 L164.34,673.09 L169.20,672.47 L174.05,671.84 L178.91,671.20 L183.76,670.54 L188.62,669.86 L193.47,669.18 L198.33,668.48 L203.19,667.76 L208.04,667.04 L212.90,666.29 L217.75,665.54 L222.61,664.77 L227.46,663.98 L232.32,663.19 L237.17,662.38 L242.03,661.55 L246.88,660.71 L251.74,659.86 L256.59,659.00 L261.45,658.12 L266.31,657.23 L271.16,656.32 L276.02,655.40 L280.87,654.47 L285.73,653.52 L290.58,652.57 L295.44,651.59 L300.29,650.61 L305.15,649.61 L310.00,648.60 L314.86,647.57 L319.71,646.54 L324.57,645.49 L329.42,644.42 L334.28,643.34 L339.14,642.25 L343.99,641.15 L348.85,640.04 L353.70,638.91 L358.56,637.77 L363.41,636.61 L368.27,635.45 L373.12,634.27 L377.98,633.08 L382.83,631.87 L387.69,630.66 L392.54,629.43 L397.40,628.18 L402.25,626.93 L407.11,625.66 L411.97,624.38 L416.82,623.09 L421.68,621.79 L426.53,620.47 L431.39,619.15 L436.24,617.81 L441.10,616.45 L445.95,615.09 L450.81,613.71 L455.66,612.32 L460.52,610.92 L465.37,609.51 L470.23,608.08 L475.08,606.65 L479.94,605.20 L484.80,603.74 L489.65,602.27 L494.51,600.78 L499.36,599.29 L504.22,597.78 L509.07,596.26 L513.93,594.73 L518.78,593.19 L523.64,591.64 L528.49,590.07 L533.35,588.49 L538.20,586.91 L543.06,585.31 L547.92,583.70 L552.77,582.07 L557.63,580.44 L562.48,578.80 L567.34,577.14 L572.19,575.47 L577.05,573.80 L581.90,572.11 L586.76,570.41 L591.61,568.70 L596.47,566.97 L601.32,565.24 L606.18,563.50 L611.03,561.74 L615.89,559.98 L620.75,558.20 L625.60,556.41 L630.46,554.61 L635.31,552.80 L640.17,550.98 L645.02,549.15 L649.88,547.31 L654.73,545.46 L659.59,543.60 L664.44,541.73 L669.30,539.85 L674.15,537.95 L679.01,536.05 L683.86,534.14 L688.72,532.21 L693.58,530.28 L698.43,528.33 L703.29,526.38 L708.14,524.41 L713.00,522.44 L717.85,520.45 L722.71,518.46 L727.56,516.45 L732.42,514.44 L737.27,512.41 L742.13,510.38 L746.98,508.33 L751.84,506.28 L756.69,504.21 L761.55,502.14 L766.41,500.05 L771.26,497.96 L776.12,495.86 L780.97,493.74 L785.83,491.62 L790.68,489.49 L795.54,487.35 L800.39,485.20 L805.25,483.04 L810.10,480.87 L814.96,478.69 L819.81,476.50 L824.67,474.30 L829.53,472.09 L834.38,469.88 L839.24,467.65 L844.09,465.42 L848.95,463.17 L853.80,460.92 L858.66,458.66 L863.51,456.39 L868.37,454.11 L873.22,451.82 L878.08,449.52 L882.93,447.22 L887.79,444.90 L892.64,442.58 L897.50,440.24" fill="none" stroke="#0A7A35" stroke-width="1.4"/>
<path d="M125.50,677.50 L130.36,677.41 L135.21,677.31 L140.07,677.21 L144.92,677.11 L149.78,677.00 L154.63,676.90 L159.49,676.79 L164.34,676.68 L169.20,676.57 L174.05,676.45 L178.91,676.34 L183.76,676.22 L188.62,676.10 L193.47,675.98 L198.33,675.85 L203.19,675.73 L208.04,675.60 L212.90,675.47 L217.75,675.34 L222.61,675.20 L227.46,675.07 L232.32,674.93 L237.17,674.79 L242.03,674.65 L246.88,674.51 L251.74,674.36 L256.59,674.22 L261.45,674.07 L266.31,673.92 L271.16,673.77 L276.02,673.62 L280.87,673.46 L285.73,673.31 L290.58,673.15 L295.44,672.99 L300.29,672.83 L305.15,672.67 L310.00,672.51 L314.86,672.35 L319.71,672.18 L324.57,672.01 L329.42,671.85 L334.28,671.68 L339.14,671.51 L343.99,671.33 L348.85,671.16 L353.70,670.99 L358.56,670.81 L363.41,670.63 L368.27,670.46 L373.12,670.28 L377.98,670.10 L382.83,669.92 L387.69,669.73 L392.54,669.55 L397.40,669.37 L402.25,669.18 L407.11,669.00 L411.97,668.81 L416.82,668.62 L421.68,668.43 L426.53,668.24 L431.39,668.05 L436.24,667.86 L441.10,667.67 L445.95,667.48 L450.81,667.28 L455.66,667.09 L460.52,666.89 L465.37,666.70 L470.23,666.50 L475.08,666.31 L479.94,666.11 L484.80,665.91 L489.65,665.71 L494.51,665.51 L499.36,665.31 L504.22,665.11 L509.07,664.91 L513.93,664.71 L518.78,664.51 L523.64,664.31 L528.49,664.11 L533.35,663.91 L538.20,663.71 L543.06,663.50 L547.92,663.30 L552.77,663.10 L557.63,662.89 L562.48,662.69 L567.34,662.49 L572.19,662.28 L577.05,662.08 L581.90,661.87 L586.76,661.67 L591.61,661.47 L596.47,661.26 L601.32,661.06 L606.18,660.85 L611.03,660.65 L615.89,660.45 L620.75,660.24 L625.60,660.04 L630.46,659.83 L635.31,659.63 L640.17,659.43 L645.02,659.22 L649.88,659.02 L654.73,658.82 L659.59,658.62 L664.44,658.42 L669.30,658.21 L674.15,658.01 L679.01,657.81 L683.86,657.61 L688.72,657.41 L693.58,657.21 L698.43,657.01 L703.29,656.81 L708.14,656.62 L713.00,656.42 L717.85,656.22 L722.71,656.03 L727.56,655.83 L732.42,655.64 L737.27,655.44 L742.13,655.25 L746.98,655.05 L751.84,654.86 L756.69,654.67 L761.55,654.48 L766.41,654.29 L771.26,654.10 L776.12,653.91 L780.97,653.73 L785.83,653.54 L790.68,653.35 L795.54,653.17 L800.39,652.99 L805.25,652.80 L810.10,652.62 L814.96,652.44 L819.81,652.26 L824.67,652.09 L829.53,651.91 L834.38,651.73 L839.24,651.56 L844.09,651.38 L848.95,651.21 L853.80,651.04 L858.66,650.87 L863.51,650.70 L868.37,650.54 L873.22,650.37 L878.08,650.20 L882.93,650.04 L887.79,649.88 L892.64,649.72 L897.50,649.56" fill="none" stroke="#0A7A35" stroke-width="1.4"/>
</g>
<line x1="530" y1="153.2" x2="821.40" y2="392.79" stroke="#C50D1F" stroke-width="1.6"/>
<path d="M832.6,402 L817.12,394.84 L822.59,388.20 Z" fill="#C50D1F"/>
<line x1="530" y1="226.1" x2="821.29" y2="428.33" stroke="#C50D1F" stroke-width="1.6"/>
<path d="M833.2,436.6 L817.19,430.72 L822.10,423.66 Z" fill="#C50D1F"/>
<line x1="530" y1="326" x2="820.42" y2="529.38" stroke="#C50D1F" stroke-width="1.6"/>
<path d="M832.3,537.7 L816.32,531.76 L821.25,524.71 Z" fill="#C50D1F"/>
<path d="M859.3,381.8 L881.3,399.5 L837.3,399.5 Z" fill="#C50D1F" stroke="#fff" stroke-width="1.5" stroke-linejoin="miter"/>
<rect x="848" y="406" width="22" height="5.6" fill="#C50D1F" stroke="#fff" stroke-width="1.5"/>
<rect x="848" y="417.1" width="22" height="204" fill="#C50D1F" stroke="#fff" stroke-width="1.5"/>
<line x1="848" y1="491" x2="870" y2="491" stroke="#fff" stroke-width="1.5"/>
<text x="102.3" y="684.6" font-family="Liberation Sans, sans-serif" font-size="20.5" letter-spacing="2.6" fill="#231F20" text-anchor="end">0</text>
<text x="102.3" y="621.25" font-family="Liberation Sans, sans-serif" font-size="20.5" letter-spacing="2.6" fill="#231F20" text-anchor="end">20</text>
<text x="102.3" y="557.9" font-family="Liberation Sans, sans-serif" font-size="20.5" letter-spacing="2.6" fill="#231F20" text-anchor="end">40</text>
<text x="102.3" y="494.55" font-family="Liberation Sans, sans-serif" font-size="20.5" letter-spacing="2.6" fill="#231F20" text-anchor="end">60</text>
<text x="102.3" y="431.2" font-family="Liberation Sans, sans-serif" font-size="20.5" letter-spacing="2.6" fill="#231F20" text-anchor="end">80</text>
<text x="102.3" y="367.85" font-family="Liberation Sans, sans-serif" font-size="20.5" letter-spacing="2.6" fill="#231F20" text-anchor="end">100</text>
<text x="102.3" y="304.5" font-family="Liberation Sans, sans-serif" font-size="20.5" letter-spacing="2.6" fill="#231F20" text-anchor="end">120</text>
<text x="102.3" y="241.15" font-family="Liberation Sans, sans-serif" font-size="20.5" letter-spacing="2.6" fill="#231F20" text-anchor="end">140</text>
<text x="102.3" y="177.8" font-family="Liberation Sans, sans-serif" font-size="20.5" letter-spacing="2.6" fill="#231F20" text-anchor="end">160</text>
<text x="102.3" y="114.45" font-family="Liberation Sans, sans-serif" font-size="20.5" letter-spacing="2.6" fill="#231F20" text-anchor="end">180</text>
<text x="97.7" y="51.1" font-family="Liberation Sans, sans-serif" font-size="20.5" letter-spacing="2.6" fill="#231F20" text-anchor="end">200</text>
<text x="126.8" y="723.1" font-family="Liberation Sans, sans-serif" font-size="20.5" letter-spacing="2.6" fill="#231F20" text-anchor="middle">1990</text>
<text x="546.38" y="723.1" font-family="Liberation Sans, sans-serif" font-size="20.5" letter-spacing="2.6" fill="#231F20" text-anchor="middle">2050</text>
<text x="896.03" y="723.1" font-family="Liberation Sans, sans-serif" font-size="20.5" letter-spacing="2.6" fill="#231F20" text-anchor="middle">2100</text>
<text x="-486.4" y="41.6" font-family="Liberation Sans, sans-serif" font-size="20" letter-spacing="1.75" fill="#231F20" text-anchor="start" transform="rotate(-90)">Anstieg des Meeresspiegels in Zentimetern</text>
<text x="251" y="122.3" font-family="Liberation Sans, sans-serif" font-size="20" letter-spacing="1.94" fill="#C50D1F" text-anchor="start">Ein weiterer Anstieg kann</text>
<text x="218.3" y="146.7" font-family="Liberation Sans, sans-serif" font-size="20" letter-spacing="1.62" fill="#C50D1F" text-anchor="start">nicht ausgeschlossen werden</text>
<text x="281.4" y="197" font-family="Liberation Sans, sans-serif" font-size="20" letter-spacing="1.49" fill="#C50D1F" text-anchor="start">Gleitende Eismassen in</text>
<text x="232.5" y="221.6" font-family="Liberation Sans, sans-serif" font-size="20" letter-spacing="2.13" fill="#C50D1F" text-anchor="start">Grönland und der Antarktis</text>
<text x="220.7" y="271.5" font-family="Liberation Sans, sans-serif" font-size="20" letter-spacing="1.97" fill="#C50D1F" text-anchor="start">Im Wesentlichen Erwärmung</text>
<text x="355.8" y="296.1" font-family="Liberation Sans, sans-serif" font-size="20" letter-spacing="1.7" fill="#C50D1F" text-anchor="start">des Ozeans und</text>
<text x="237" y="320.9" font-family="Liberation Sans, sans-serif" font-size="20" letter-spacing="1.68" fill="#C50D1F" text-anchor="start">Abschmelzen der Gletscher</text>
<text x="631.2" y="474.4" font-family="Liberation Sans, sans-serif" font-size="20" letter-spacing="1.6" fill="#ffffff" text-anchor="start">andere</text>
<text x="625.5" y="498.5" font-family="Liberation Sans, sans-serif" font-size="20" letter-spacing="1.36" fill="#ffffff" text-anchor="start">Forscher</text>
<text x="644.5" y="616.6" font-family="Liberation Sans, sans-serif" font-size="20" letter-spacing="1.03" fill="#ffffff" text-anchor="start">IPCC</text>
</svg>
</body></html>
